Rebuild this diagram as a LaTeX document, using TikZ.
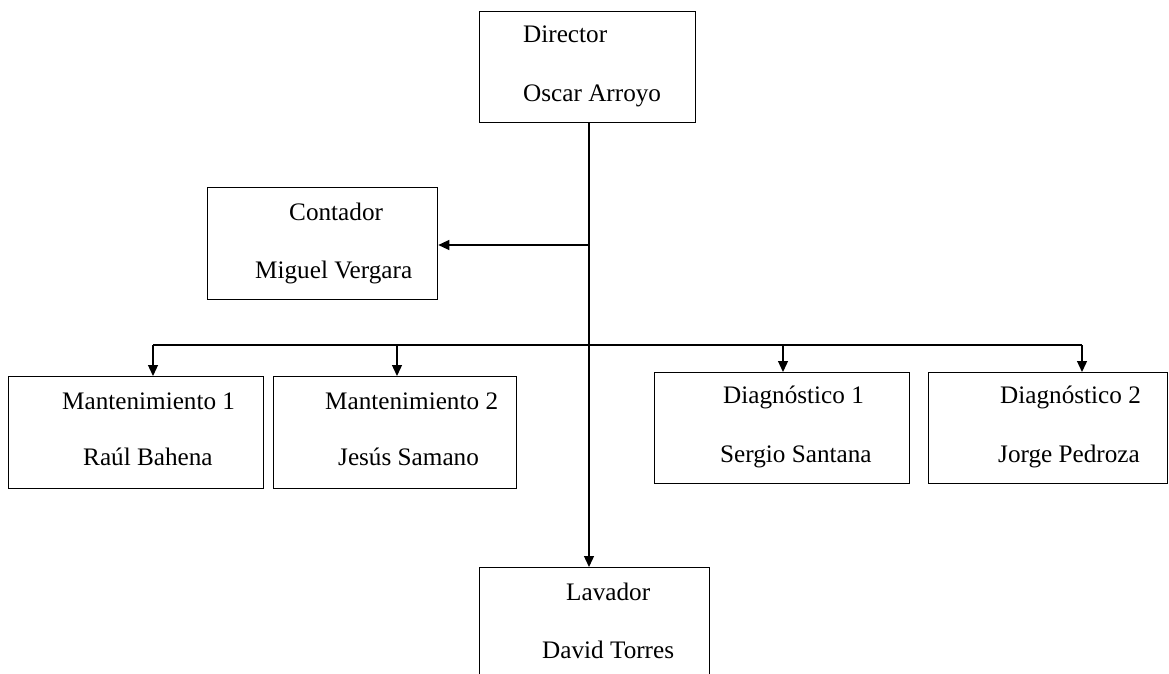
\documentclass[tikz,border=0pt]{standalone}
\usepackage{fontspec}
\setmainfont{Liberation Serif}
\usetikzlibrary{arrows.meta}
\begin{document}
\begin{tikzpicture}[x=1pt,y=-1pt,
  box/.style={draw, line width=1.3pt, inner sep=0pt, anchor=north west},
  lbl/.style={anchor=base west, inner sep=0pt, font=\fontsize{25.2}{30}\selectfont},
  conn/.style={line width=1.3pt},
  arr/.style={conn, -{Triangle[length=11pt,width=10pt]}}]
\useasboundingbox (0,0) rectangle (1169,674);
\clip (0,0) rectangle (1169,674);
% boxes
\node[box, minimum width=216pt, minimum height=111pt] (dir) at (479,11) {};
\node[box, minimum width=230pt, minimum height=112pt] (cont) at (207,187) {};
\node[box, minimum width=255pt, minimum height=112pt] (m1) at (8,376) {};
\node[box, minimum width=243pt, minimum height=112pt] (m2) at (273,376) {};
\node[box, minimum width=255pt, minimum height=111pt] (d1) at (654,372) {};
\node[box, minimum width=239pt, minimum height=111pt] (d2) at (928,372) {};
\node[box, minimum width=230pt, minimum height=140pt] (lav) at (479,567) {};
% labels
\node[lbl] (dirA) at (523,43) {Director};
\node[lbl] (dirB) at (523,102) {Oscar Arroyo};
\node[lbl] (contA) at (289,220) {Contador};
\node[lbl] (contB) at (255,278) {Miguel Vergara};
\node[lbl] (m1A) at (62,409) {Mantenimiento 1};
\node[lbl] (m1B) at (83,465) {Raúl Bahena};
\node[lbl] (m2A) at (325,409) {Mantenimiento 2};
\node[lbl] (m2B) at (338,465) {Jesús Samano};
\node[lbl] (d1A) at (723,403) {Diagnóstico 1};
\node[lbl] (d1B) at (720,462) {Sergio Santana};
\node[lbl] (d2A) at (1000,403) {Diagnóstico 2};
\node[lbl] (d2B) at (998,462) {Jorge Pedroza};
\node[lbl] (lavA) at (566,600) {Lavador};
\node[lbl] (lavB) at (542,658) {David Torres};
% connectors
\coordinate (t1) at (589,245);
\coordinate (b1) at (153,345);
\coordinate (b2) at (397,345);
\coordinate (b3) at (783,345);
\coordinate (b4) at (1082,345);
\draw[arr] (dir.south -| t1) -- (lav.north -| t1);
\draw[arr] (t1) -- (cont.east |- t1);
\draw[conn] (b1) -- (b4);
\draw[arr] (b1) -- (m1.north -| b1);
\draw[arr] (b2) -- (m2.north -| b2);
\draw[arr] (b3) -- (d1.north -| b3);
\draw[arr] (b4) -- (d2.north -| b4);
\end{tikzpicture}
\end{document}
